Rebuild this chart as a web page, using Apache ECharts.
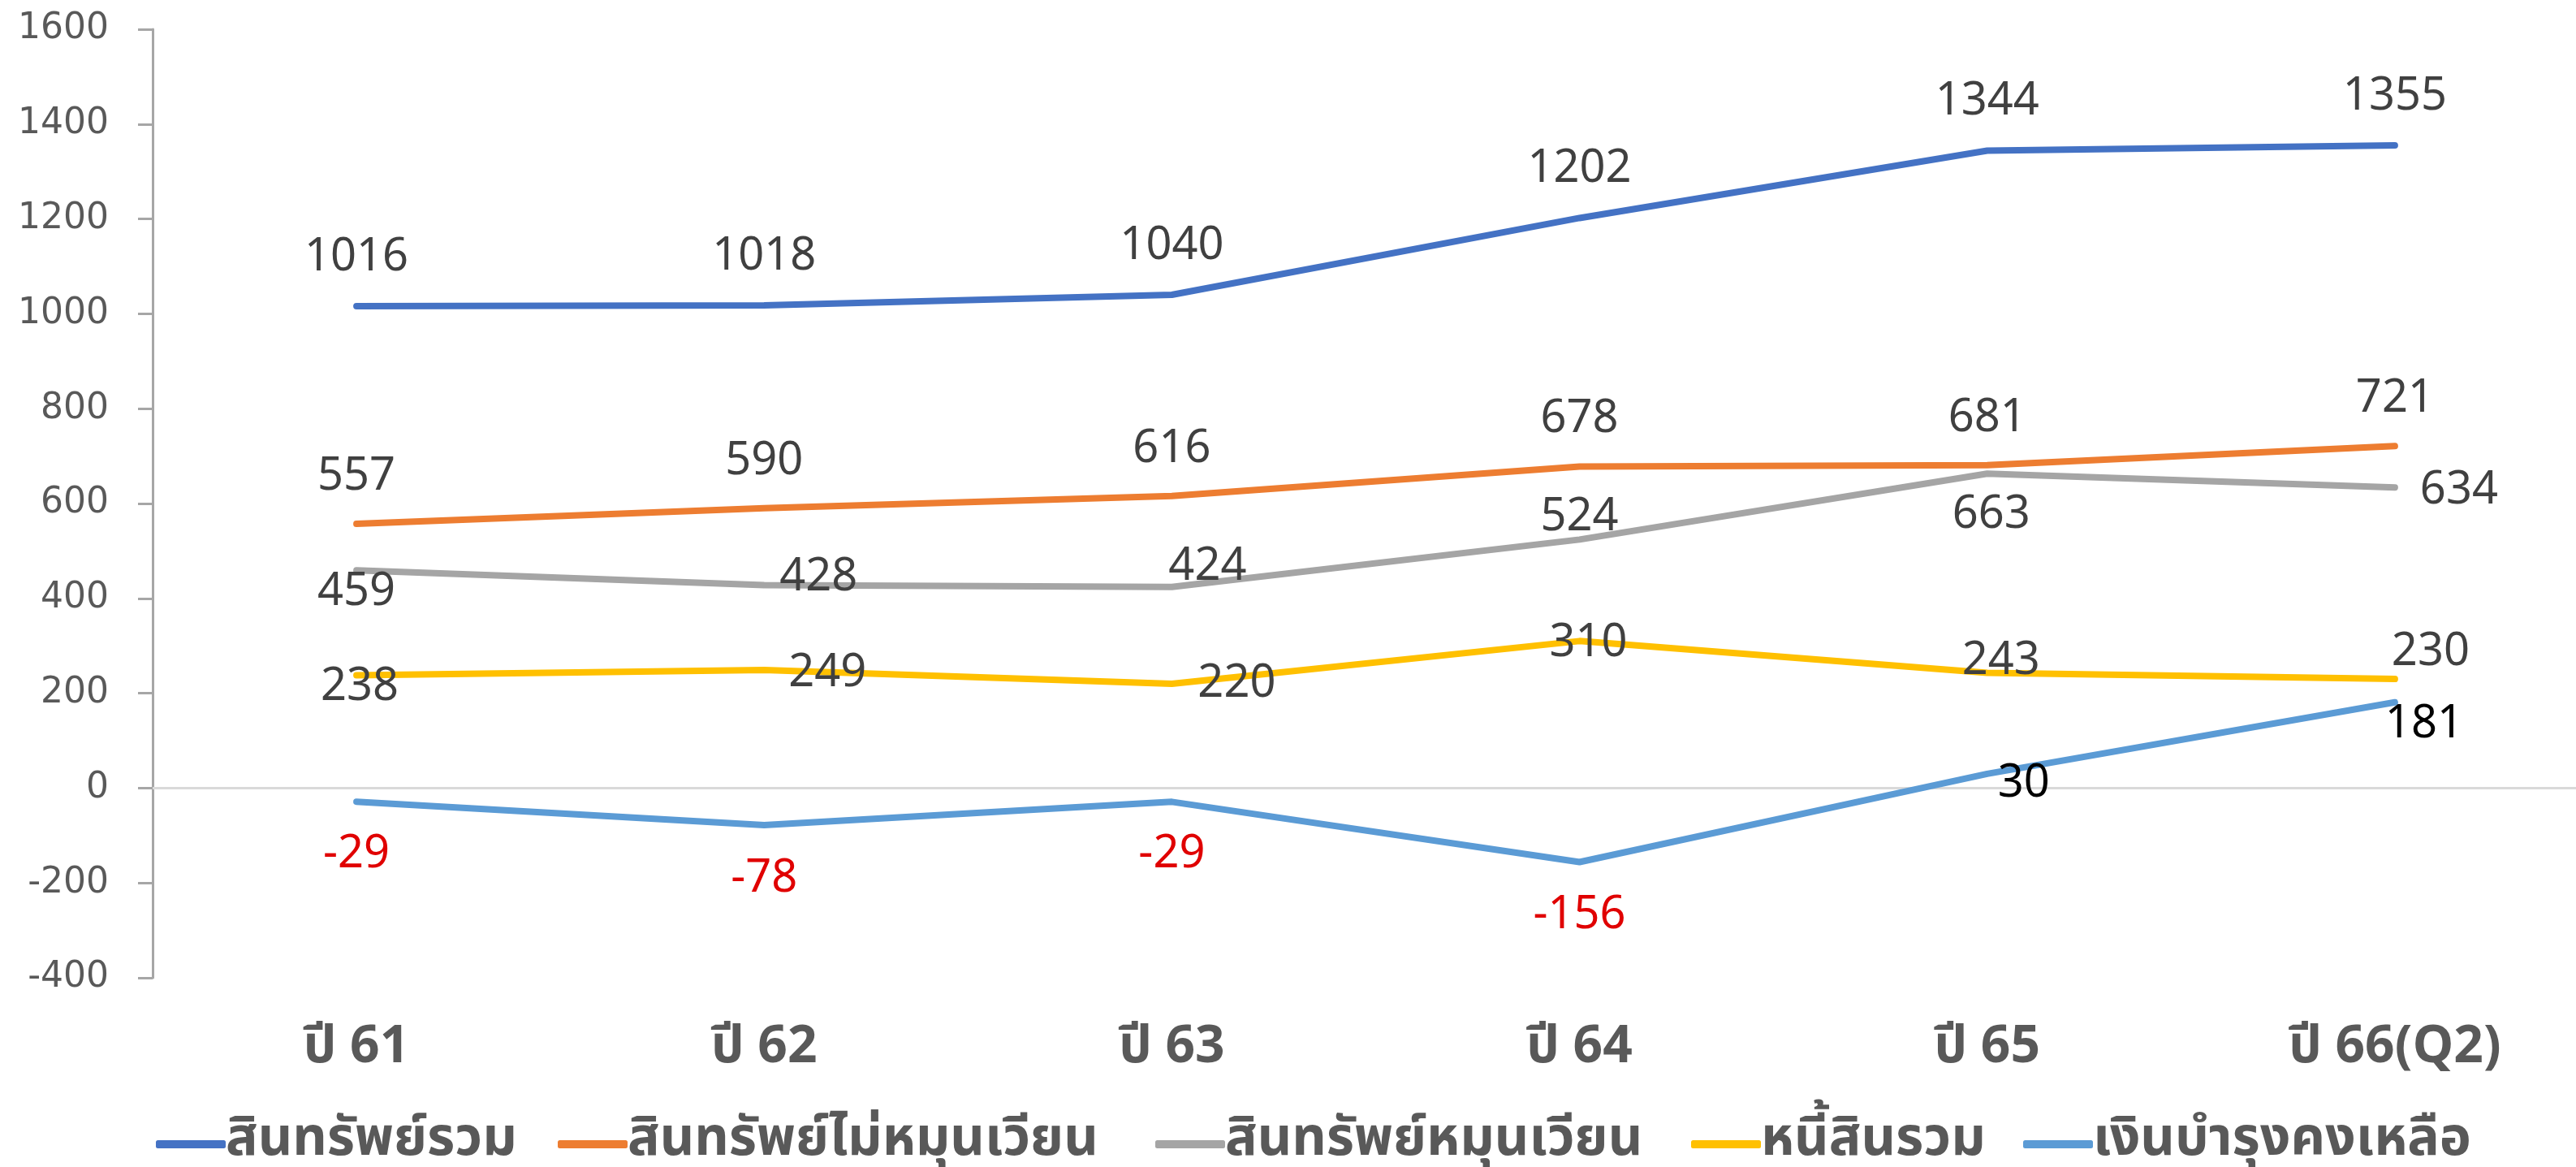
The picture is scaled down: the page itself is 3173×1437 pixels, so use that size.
<!DOCTYPE html>
<html>
<head>
<meta charset="utf-8">
<script src="https://cdn.jsdelivr.net/npm/echarts@6/dist/echarts.min.js"></script>
<style>
html,body{margin:0;padding:0;background:#fff;overflow:hidden;}
#c{width:3201px;height:1437px;}
</style>
</head>
<body>
<div id="c"></div>
<script>
// ---- data ----
var categories = ['ปี 61', 'ปี 62', 'ปี 63', 'ปี 64', 'ปี 65', 'ปี 66(Q2)'];
var seriesNames = ['สินทรัพย์รวม', 'สินทรัพย์ไม่หมุนเวียน', 'สินทรัพย์หมุนเวียน', 'หนี้สินรวม', 'เงินบำรุงคงเหลือ'];
var totalAssets = [1016, 1018, 1040, 1202, 1344, 1355];
var nonCurrentAssets = [557, 590, 616, 678, 681, 721];
var currentAssets = [459, 428, 424, 524, 663, 634];
var totalLiabilities = [238, 249, 220, 310, 243, 230];
var remainingFund = [-29, -78, -29, -156, 30, 181];
var yTicks = [-400, -200, 0, 200, 400, 600, 800, 1000, 1200, 1400, 1600];

// ---- styling / layout (kept separate from data) ----
var colors = ['#4472C4', '#ED7D31', '#A5A5A5', '#FFC000', '#5B9BD5'];
var labelOffsets = [
  [[0,-60],[0,-60],[0,-60],[0,-60],[0,-60],[0,-60]],
  [[0,-58],[0,-58],[0,-58],[0,-58],[0,-58],[0,-58]],
  [[0,27],[67,-9],[44,-25],[0,-27],[5,51],[79,4]],
  [[4,15],[78,4],[80,0],[11,3],[17,-14],[44,-33]],
  [[0,65],[0,66],[0,65],[0,66],[45,12],[36,27]]
];
var legendLefts = [187, 682, 1418, 2078, 2487];

var thaiFont = '"Noto Sans Thai", "Noto Sans Thai UI", "Tlwg Typist", "Garuda", "Loma", sans-serif';
var numFont = '"Noto Sans", "Noto Sans Thai", sans-serif';

var allValues = [totalAssets, nonCurrentAssets, currentAssets, totalLiabilities, remainingFund];

function buildData(si) {
  return allValues[si].map(function (v, i) {
    var col = '#404040';
    if (si === 4) col = v < 0 ? '#E00000' : '#000000';
    return {
      value: v,
      label: { offset: labelOffsets[si][i], color: col }
    };
  });
}

var series = allValues.map(function (vals, si) {
  var s = {
    name: seriesNames[si],
    type: 'line',
    data: buildData(si),
    symbol: 'circle',
    symbolSize: 0.1,
    showSymbol: true,
    itemStyle: { color: colors[si] },
    lineStyle: { color: colors[si], width: 8, cap: 'round', join: 'round' },
    label: {
      show: true,
      position: 'inside',
      fontFamily: numFont,
      fontSize: 56,
      color: '#404040'
    },
    z: 3 + si,
    animation: false
  };
  if (si === 0) {
    s.markLine = {
      silent: true,
      symbol: ['none', 'none'],
      label: { show: false },
      lineStyle: { color: '#D9D9D9', width: 3, type: 'solid' },
      data: [{ yAxis: 0 }],
      animation: false
    };
  }
  return s;
});

var legends = seriesNames.map(function (n, i) {
  return {
    data: [n],
    left: legendLefts[i],
    top: 1364,
    icon: 'roundRect',
    itemWidth: 86,
    itemHeight: 10,
    itemGap: 0,
    selectedMode: false,
    textStyle: {
      fontFamily: thaiFont,
      fontWeight: 'bold',
      fontSize: 66,
      color: '#595959',
      lineHeight: 80,
      padding: [0, 0, 0, -5]
    }
  };
});

var chart = echarts.init(document.getElementById('c'), null, { renderer: 'canvas' });
chart.setOption({
  animation: false,
  backgroundColor: '#ffffff',
  color: colors,
  legend: legends,
  grid: { left: 188, right: 0, top: 36, bottom: 233, containLabel: false },
  xAxis: {
    type: 'category',
    data: categories,
    boundaryGap: true,
    axisLine: { show: false, onZero: false },
    axisTick: { show: false },
    axisLabel: {
      margin: 55,
      fontFamily: thaiFont,
      fontWeight: 'bold',
      fontSize: 64,
      color: '#595959',
      lineHeight: 72
    }
  },
  yAxis: {
    type: 'value',
    min: yTicks[0],
    max: yTicks[yTicks.length - 1],
    interval: 200,
    splitLine: { show: false },
    axisLine: { show: true, lineStyle: { color: '#A6A6A6', width: 3 } },
    axisTick: { show: true, length: 18, lineStyle: { color: '#A6A6A6', width: 3 } },
    axisLabel: {
      margin: 54,
      fontFamily: '"DejaVu Sans", Verdana, sans-serif',
      fontSize: 44,
      color: '#595959',
      formatter: function (v) { return String(v); }
    }
  },
  series: series
});
</script>
</body>
</html>
